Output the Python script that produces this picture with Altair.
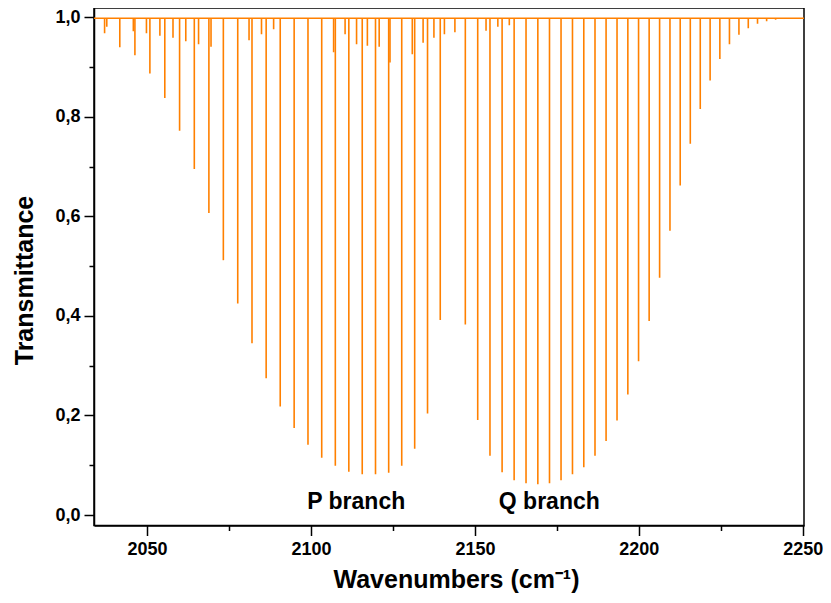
import altair as alt
import pandas as pd

# --- data -------------------------------------------------------------------
# P-branch lines P(1)..P(25): wavenumber (cm-1) and minimum transmittance
p_wn = [2139.43, 2135.55, 2131.63, 2127.68, 2123.70, 2119.68, 2115.63, 2111.54,
        2107.42, 2103.27, 2099.08, 2094.86, 2090.61, 2086.32, 2082.00, 2077.65,
        2073.26, 2068.85, 2064.40, 2059.91, 2055.40, 2050.85, 2046.28, 2041.67,
        2037.03]
p_t = [0.392, 0.204, 0.133, 0.099, 0.085, 0.082, 0.082, 0.087,
       0.099, 0.115, 0.141, 0.175, 0.218, 0.275, 0.345, 0.425,
       0.512, 0.607, 0.695, 0.772, 0.838, 0.887, 0.924, 0.940,
       0.968]

# R-branch lines R(0)..R(31)
r_wn = [2147.08, 2150.86, 2154.60, 2158.30, 2161.97, 2165.60, 2169.20, 2172.76,
        2176.28, 2179.77, 2183.22, 2186.64, 2190.02, 2193.36, 2196.66, 2199.93,
        2203.16, 2206.35, 2209.51, 2212.63, 2215.71, 2218.75, 2221.76, 2224.73,
        2227.66, 2230.55, 2233.40, 2236.22, 2239.00, 2241.74, 2244.44, 2247.10]
r_t = [0.383, 0.191, 0.119, 0.086, 0.070, 0.064, 0.062, 0.064,
       0.070, 0.082, 0.096, 0.119, 0.149, 0.190, 0.242, 0.309,
       0.390, 0.477, 0.571, 0.662, 0.746, 0.816, 0.873, 0.916,
       0.946, 0.965, 0.978, 0.987, 0.992, 0.995, 0.997, 0.998]

# weak (hot band / isotopic) lines near the top
weak_wn = [2037.7, 2045.8, 2049.8, 2053.9, 2057.9, 2061.8, 2065.7, 2069.5,
           2081.1, 2084.9, 2088.6, 2106.9, 2110.4, 2113.9, 2117.2, 2120.8,
           2124.1, 2130.9, 2134.2, 2137.5, 2140.7, 2143.9, 2153.4, 2157.0,
           2160.5]
weak_t = [0.981, 0.972, 0.968, 0.963, 0.959, 0.952, 0.946, 0.941,
          0.954, 0.966, 0.976, 0.930, 0.966, 0.946, 0.943, 0.941,
          0.909, 0.926, 0.949, 0.959, 0.966, 0.970, 0.973, 0.981,
          0.984]

baseline_t = 0.998
x_domain = [2033.8, 2250.4]
y_domain = [-0.021, 1.0187]

x_ticks = [2050, 2075, 2100, 2125, 2150, 2175, 2200, 2225, 2250]
y_ticks = [0.0, 0.1, 0.2, 0.3, 0.4, 0.5, 0.6, 0.7, 0.8, 0.9, 1.0]

label_text = ["P branch", "Q branch"]
label_wn = [2113.8, 2172.7]
label_t = [0.012, 0.012]

# --- tables -------------------------------------------------------------------
lines = pd.DataFrame({"wn": p_wn + r_wn + weak_wn, "t": p_t + r_t + weak_t})
lines["top"] = baseline_t
base = pd.DataFrame({"x0": [x_domain[0]], "x1": [x_domain[1]], "t": [baseline_t]})
labels = pd.DataFrame({"text": label_text, "wn": label_wn, "t": label_t})

ORANGE = "#FF8000"
FONT = "Liberation Sans"

x_scale = alt.Scale(domain=x_domain, nice=False, zero=False)
y_scale = alt.Scale(domain=y_domain, nice=False, zero=False)

x_axis = alt.Axis(
    values=x_ticks,
    format="d",
    title="Wavenumbers (cm⁻¹)",
    labelExpr="datum.value % 50 == 0 ? datum.label : ''",
    labelOverlap=False,
    tickSize={"condition": {"test": "datum.value % 50 != 0", "value": 5}, "value": 10},
    labelPadding=5,
    titleY=62,
    titleX=362,
    titleBaseline="alphabetic",
    grid=False,
)
y_axis = alt.Axis(
    values=y_ticks,
    title="Transmittance",
    labelExpr="round(datum.value*10) % 2 == 0 ? replace(format(datum.value, '.1f'), '.', ',') : ''",
    labelOverlap=False,
    tickSize={"condition": {"test": "round(datum.value*10) % 2 != 0", "value": 5}, "value": 10},
    labelPadding=4,
    titleAngle=270,
    titleX=-62,
    titleY=272,
    titleBaseline="alphabetic",
    grid=False,
)

rules = alt.Chart(lines).mark_rule(color=ORANGE, strokeWidth=1.6, clip=True).encode(
    x=alt.X("wn:Q", scale=x_scale, axis=x_axis),
    y=alt.Y("t:Q", scale=y_scale, axis=y_axis),
    y2="top:Q",
)

baseline = alt.Chart(base).mark_rule(color=ORANGE, strokeWidth=1.6, clip=True).encode(
    x="x0:Q", x2="x1:Q", y="t:Q"
)

text = alt.Chart(labels).mark_text(
    font=FONT, fontSize=23, fontWeight="bold", color="black",
    align="center", baseline="alphabetic",
).encode(x="wn:Q", y="t:Q", text="text:N")

chart = (
    alt.layer(baseline, rules, text)
    .properties(
        width=710, height=517.5,
        autosize=alt.AutoSizeParams(type="none"),
        padding={"left": 86, "top": 0, "right": 19, "bottom": 68},
        background="white",
    )
    .configure_view(stroke="black", strokeWidth=1.5)
    .configure_axis(
        labelFont=FONT, labelFontSize=18, labelFontWeight="bold", labelColor="black",
        titleFont=FONT, titleFontSize=25, titleFontWeight="bold", titleColor="black",
        domainColor="black", domainWidth=1.5, tickColor="black", tickWidth=1.5,
    )
)

chart.save("out.html", embed_options={"renderer": "svg", "actions": False})
